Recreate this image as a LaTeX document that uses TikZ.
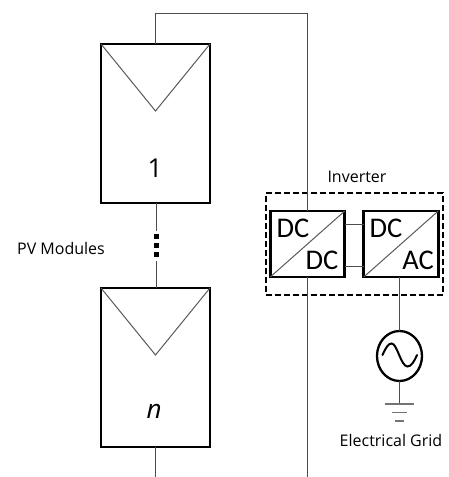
\documentclass[tikz,border=0pt]{standalone}
\usepackage{fontspec}
\usetikzlibrary{shapes.geometric}
\setmainfont{Open Sans}
\newfontfamily\boxfont{Carlito}
\tikzset{
  x=1pt,y=-1pt,
  wire/.style={draw=black!70,line width=1pt},
  heavy/.style={draw=black,line width=2.7pt},
  thinline/.style={draw=black!65,line width=1pt},
  panel/.style={heavy,minimum width=109pt,minimum height=159pt,inner sep=0pt,outer sep=0pt},
  conv/.style={heavy,minimum width=74.5pt,minimum height=66pt,inner sep=0pt,outer sep=0pt},
  lbl/.style={inner sep=0pt,font=\fontsize{16}{18}\selectfont},
  conlbl/.style={inner sep=0pt,font=\boxfont\fontsize{28.5}{30}\selectfont},
  dot/.style={fill=black,inner sep=0pt,minimum size=4.4pt,outer sep=0pt},
  gnd/.style={draw=black!55,line width=1.3pt},
}
\begin{document}
\begin{tikzpicture}
\useasboundingbox (0,0) rectangle (449,477);
% panels
\node[panel] (m1) at (155.5,123.5) {};
\node[panel] (mn) at (155.5,367.5) {};
\coordinate (m1v) at (155.5,111);
\coordinate (mnv) at (155.5,355);
\draw[thinline] (m1.north west) -- (m1v) -- (m1.north east);
\draw[thinline] (mn.north west) -- (mnv) -- (mn.north east);
\node[inner sep=0pt,font=\fontsize{26}{30}\selectfont] (n1) at (155,168) {1};
\node[inner sep=0pt,font=\fontsize{26}{30}\selectfont\itshape] (nn) at (154,411) {n};
% dots between panels
\node[dot] (d1) at (156.5,236.5) {};
\node[dot] (d2) at (156.5,245.5) {};
\node[dot] (d3) at (156.5,254.5) {};
\coordinate (w1) at (156.5,231);
\coordinate (w2) at (156.5,261);
\draw[wire] (m1.south -| w1) -- (w1);
\draw[wire] (w2) -- (mn.north -| w2);
\node[lbl] (pv) at (61,248) {PV Modules};
% converters
\node[conv] (dc) at (307.5,244) {};
\node[conv] (ac) at (401,244) {};
\draw[thinline] (dc.south west) -- (dc.north east);
\draw[thinline] (ac.south west) -- (ac.north east);
\node[conlbl] (t1) at (293,228) {DC};
\node[conlbl] (t2) at (322,260) {DC};
\node[conlbl] (t3) at (386,228) {DC};
\node[conlbl] (t4) at (418,260) {AC};
\coordinate (a1) at (345,224);
\coordinate (a2) at (345,266.5);
\draw[wire] (a1 -| dc.east) -- (a1 -| ac.west);
\draw[wire] (a2 -| dc.east) -- (a2 -| ac.west);
% inverter outline
\node[draw=black,line width=2.3pt,dash pattern=on 6pt off 3pt,minimum width=177pt,minimum height=102pt,inner sep=0pt] (inv) at (354.5,244) {};
\node[lbl] (il) at (357,177) {Inverter};
% DC bus
\coordinate (top1) at (155.5,13);
\coordinate (top2) at (307.5,13);
\coordinate (bot1) at (155.5,477);
\coordinate (bot2) at (307.5,477);
\draw[wire] (m1.north) -- (top1) -- (top2) -- (dc.north);
\draw[wire] (dc.south) -- (bot2);
\draw[wire] (mn.south) -- (bot1);
% source
\node[draw=black,line width=2.3pt,ellipse,minimum width=45pt,minimum height=50pt,inner sep=0pt,outer sep=0pt] (src) at (399.5,356) {};
\draw[black,line width=2pt,line cap=round] (382.5,355) .. controls (386,347) and (388.5,343.5) .. (391.7,343.5) .. controls (397,343.5) and (401,366.5) .. (407.5,366.5) .. controls (411,366.5) and (414,362) .. (417,355);
\draw[wire] (ac.south -| src.north) -- (src.north);
\coordinate (g1) at (399.5,404);
\coordinate (g2) at (399.5,412.5);
\coordinate (g3) at (399.5,421);
\draw[wire] (src.south) -- (g1);
\draw[gnd] ([xshift=-14.5pt]g1) -- ([xshift=14.5pt]g1);
\draw[gnd] ([xshift=-7.5pt]g2) -- ([xshift=7.5pt]g2);
\draw[gnd] ([xshift=-4.5pt]g3) -- ([xshift=4.5pt]g3);
\node[lbl] (eg) at (391,440) {Electrical Grid};
\end{tikzpicture}
\end{document}
